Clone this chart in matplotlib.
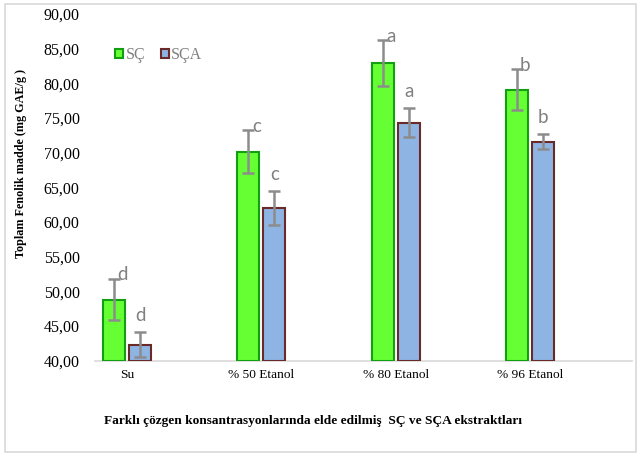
import matplotlib
matplotlib.use("Agg")
import matplotlib.pyplot as plt
import numpy as np
from matplotlib.patches import Rectangle

categories = ["Su", "% 50 Etanol", "% 80 Etanol", "% 96 Etanol"]
sc_values = [48.8, 70.1, 82.9, 79.1]
sc_errors = [3.0, 3.1, 3.3, 2.9]
sca_values = [42.3, 62.0, 74.3, 71.6]
sca_errors = [1.8, 2.5, 2.1, 1.1]
sc_letters = ["d", "c", "a", "b"]
sca_letters = ["d", "c", "a", "b"]
yticks = [40, 45, 50, 55, 60, 65, 70, 75, 80, 85, 90]

serif = "Liberation Serif"
sans = ["Lato", "DejaVu Sans"]

fig = plt.figure(figsize=(6.4, 4.55), dpi=100)
fig.patches.append(Rectangle((5/640, 3/455), 631/640, 448/455, transform=fig.transFigure,
                             fill=False, edgecolor="#d9d9d9", linewidth=1.2))
ax = fig.add_axes([95/640, 1-360.5/455, (632-95)/640, (360.5-14)/455])

x = np.arange(len(categories))
w = 0.164
off = 0.097
err_kw = dict(ecolor="#8c8c8c", elinewidth=1.8, capsize=4.5, capthick=1.8)
b1 = ax.bar(x - off, np.array(sc_values) - 40, w, bottom=40, color="#66ff33",
            edgecolor="#12a012", linewidth=1.5, label="SÇ",
            yerr=sc_errors, error_kw=err_kw, zorder=3)
b2 = ax.bar(x + off, np.array(sca_values) - 40, w, bottom=40, color="#8eb4e3",
            edgecolor="#6b2a2a", linewidth=1.5, label="SÇA",
            yerr=sca_errors, error_kw=err_kw, zorder=3)

for i in range(len(categories)):
    ax.annotate(sc_letters[i], (x[i] - off, sc_values[i] + sc_errors[i]),
                xytext=(6, 3), textcoords="offset points", ha="center", va="center",
                fontsize=13.5, color="#808080", family=sans)
    ax.annotate(sca_letters[i], (x[i] + off, sca_values[i] + sca_errors[i]),
                xytext=(0, 12), textcoords="offset points", ha="center", va="center",
                fontsize=13.5, color="#808080", family=sans)

ax.set_ylim(40, 90)
ax.set_xlim(-0.239, 3.76)
ax.set_yticks(yticks)
ax.set_yticklabels([f"{v:.2f}".replace(".", ",") for v in yticks],
                   family=serif, fontsize=11.5)
ax.set_xticks(x)
ax.set_xticklabels(categories, family=serif, fontsize=9.6)
ax.tick_params(axis="y", length=0, pad=11)
ax.tick_params(axis="x", length=0, pad=6)
for s in ["top", "right", "left"]:
    ax.spines[s].set_visible(False)
ax.spines["bottom"].set_color("#d9d9d9")
ax.spines["bottom"].set_linewidth(1.2)

fig.text(21/640, 1-164/455, "Toplam Fenolik madde (mg GAE/g )", rotation=90,
         ha="center", va="center", family=serif, fontweight="bold", fontsize=8.7)
fig.text(312.5/640, 1-421/455,
         "Farklı çözgen konsantrasyonlarında elde edilmiş  SÇ ve SÇA ekstraktları",
         ha="center", va="center", family=serif, fontweight="bold", fontsize=9.6)

leg = ax.legend(loc="upper left", bbox_to_anchor=(20/537, 1-(57-14-10)/346.5),
                ncol=2, frameon=False, prop={"family": serif, "size": 11.5},
                handlelength=0.5, handleheight=0.5, handletextpad=0.15,
                columnspacing=1.0, borderaxespad=0, borderpad=0)
for t in leg.get_texts():
    t.set_color("#808080")

fig.savefig("out.png", dpi=100)
